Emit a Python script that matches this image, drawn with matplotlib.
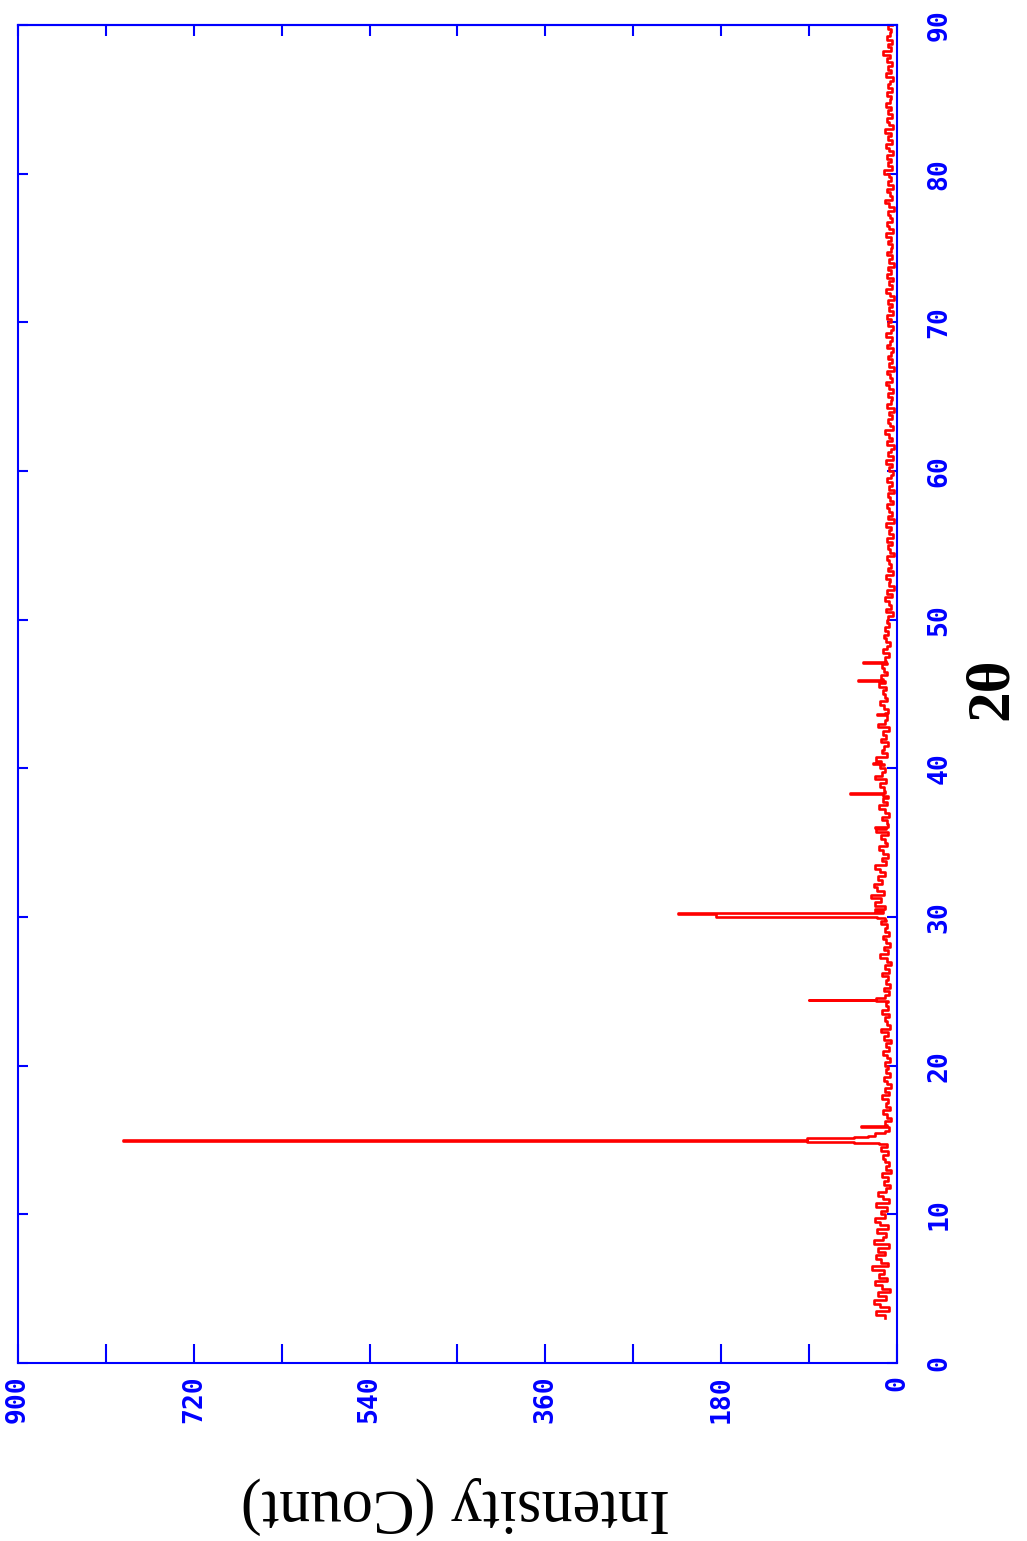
import numpy as np
import matplotlib
matplotlib.use("Agg")
import matplotlib.pyplot as plt

# XRD scan, drawn on its side: 2-theta runs up the right edge,
# intensity runs right-to-left along the bottom edge.

# baseline counts on a 0.25 deg grid, 3.0 .. 90.0
scan_start, scan_step = 3.0, 0.25
baseline_counts = [
    12, 21, 8, 17, 24, 11, 19, 7,                                              # 3.0 - 4.75
    15, 23, 10, 18, 13, 26, 9, 16, 21, 12, 19, 8, 24, 14, 11, 20, 9, 17, 22, 12,  # 5
    16, 10, 21, 8, 14, 19, 11, 7, 13, 9, 15, 6, 11, 8, 12, 14, 9, 16, 10, 13,     # 10
    11, 8, 13, 9, 12, 6, 10, 14, 7, 11, 9, 15, 8, 12, 6, 10, 13, 7, 11, 9,        # 15
    12, 7, 10, 14, 8, 11, 6, 13, 9, 16, 7, 10, 12, 8, 15, 9, 11, 18, 10, 8,       # 20
    13, 7, 11, 9, 15, 8, 12, 6, 10, 17, 9, 13, 7, 11, 14, 8, 12, 10, 16, 11,      # 25
    14, 18, 12, 22, 16, 27, 13, 20, 24, 15, 19, 12, 17, 22, 11, 15, 9, 14, 18, 10,  # 30
    12, 16, 9, 21, 13, 10, 15, 8, 12, 18, 10, 14, 9, 20, 13, 17, 11, 22, 15, 12,  # 35
    17, 12, 21, 10, 15, 13, 9, 16, 11, 14, 8, 19, 12, 10, 15, 9, 13, 17, 10, 12,  # 40
    14, 11, 18, 12, 16, 10, 13, 15, 9, 12, 8, 14, 10, 7, 11, 13, 9, 12, 8, 10,    # 45
    9, 4, 11, 6, 8, 12, 5, 10, 3, 8, 7, 11, 4, 9, 6, 8, 10, 3, 7, 9,              # 50
    5, 10, 4, 8, 6, 11, 3, 9, 5, 8, 10, 4, 7, 9, 3, 8, 5, 10, 6, 4,               # 55
    8, 5, 11, 4, 9, 6, 3, 10, 5, 8, 12, 4, 7, 9, 5, 8, 3, 10, 6, 5,               # 60
    9, 4, 8, 11, 5, 7, 10, 3, 8, 5, 9, 6, 4, 10, 7, 5, 11, 6, 4, 9,               # 65
    6, 10, 4, 8, 5, 9, 3, 7, 11, 5, 8, 4, 10, 6, 9, 3, 8, 5, 10, 6,               # 70
    5, 9, 6, 11, 4, 8, 10, 5, 7, 9, 3, 8, 12, 5, 7, 10, 4, 9, 6, 8,               # 75
    13, 5, 9, 6, 10, 4, 8, 11, 5, 9, 6, 12, 4, 8, 10, 5, 9, 6, 11, 7,             # 80
    6, 10, 5, 9, 7, 4, 11, 6, 9, 5, 10, 7, 14, 6, 9, 5, 10, 7, 6, 9,              # 85
    5,                                                                          # 90
]

# peaks and their shoulders: (2theta, counts)
peak_15 = [(14.70, 18), (14.78, 44), (14.84, 92), (14.93, 792), (14.97, 92),
           (15.11, 44), (15.20, 30), (15.30, 22), (15.45, 12), (15.60, 8),
           (15.85, 37), (15.92, 10)]
peak_24 = [(24.25, 9), (24.32, 21), (24.40, 90), (24.45, 21), (24.55, 12)]
peak_30 = [(29.80, 12), (29.90, 20), (30.00, 185), (30.22, 224), (30.27, 14),
           (30.40, 22), (30.55, 12)]
peak_36 = [(35.90, 11), (36.00, 23), (36.08, 9)]
peak_38 = [(38.15, 14), (38.25, 48), (38.32, 12)]
peak_40 = [(40.20, 13), (40.30, 25), (40.38, 16)]
peak_43 = [(43.50, 10), (43.60, 20), (43.68, 12)]
peak_46 = [(45.80, 12), (45.90, 40), (45.97, 14)]
peak_47 = [(47.00, 10), (47.10, 35), (47.17, 11)]
peaks = [peak_15, peak_24, peak_30, peak_36, peak_38, peak_40, peak_43, peak_46, peak_47]

theta_grid = scan_start + scan_step * np.arange(len(baseline_counts))
keep = np.ones(len(theta_grid), bool)
for pk in peaks:
    keep &= ~((theta_grid >= pk[0][0] - 0.01) & (theta_grid <= pk[-1][0] + 0.01))
theta = np.concatenate([theta_grid[keep]] + [np.array(p)[:, 0] for p in peaks])
counts = np.concatenate([np.array(baseline_counts, float)[keep]] + [np.array(p)[:, 1] for p in peaks])
order = np.argsort(theta)
theta, counts = theta[order], counts[order]

intensity_ticks = [0, 180, 360, 540, 720, 900]
theta_ticks = [0, 10, 20, 30, 40, 50, 60, 70, 80, 90]

fig = plt.figure(figsize=(10.27, 15.41), dpi=100)
ax = fig.add_axes([0.0175, 0.1155, 0.8559, 0.8683])

ax.plot(counts, theta, color='red', lw=1.9, drawstyle='steps-pre')

ax.set_xlim(900, 0)
ax.set_ylim(0, 90)

tickfont = dict(family='DejaVu Sans Mono', weight='bold', size=19, color='blue')
ax.set_xticks(intensity_ticks, [str(v) for v in intensity_ticks],
              rotation=90, ha='center', va='top', **tickfont)
ax.set_xticks(np.arange(90, 900, 180), minor=True)
ax.yaxis.tick_right()
ax.set_yticks(theta_ticks, [str(v) for v in theta_ticks],
              rotation=90, ha='left', va='center', **tickfont)

ax.tick_params(axis='x', which='both', direction='in', length=14, width=1.5,
               color='blue', top=False, pad=9)
ax.tick_params(axis='y', which='both', direction='in', length=7, width=1.5,
               color='blue', left=True, right=True, labelleft=False,
               labelright=True, pad=21)

top = ax.secondary_xaxis('top')
top.set_xticks(np.arange(0, 901, 90))
top.tick_params(direction='in', length=8, width=1.5, color='blue', labeltop=False)
top.spines['top'].set_color('blue')
top.spines['top'].set_linewidth(1.5)

for s in ax.spines.values():
    s.set_color('blue')
    s.set_linewidth(1.5)

fig.text(455 / 1027, 1 - 1505 / 1541, 'Intensity (Count)', rotation=180,
         ha='center', va='center', family='Liberation Serif', fontsize=45)
fig.text(992 / 1027, 1 - 689 / 1541, '2θ', rotation=90, ha='center',
         va='center', family='Liberation Serif', weight='bold', fontsize=44)

fig.savefig('out.png', dpi=100)
